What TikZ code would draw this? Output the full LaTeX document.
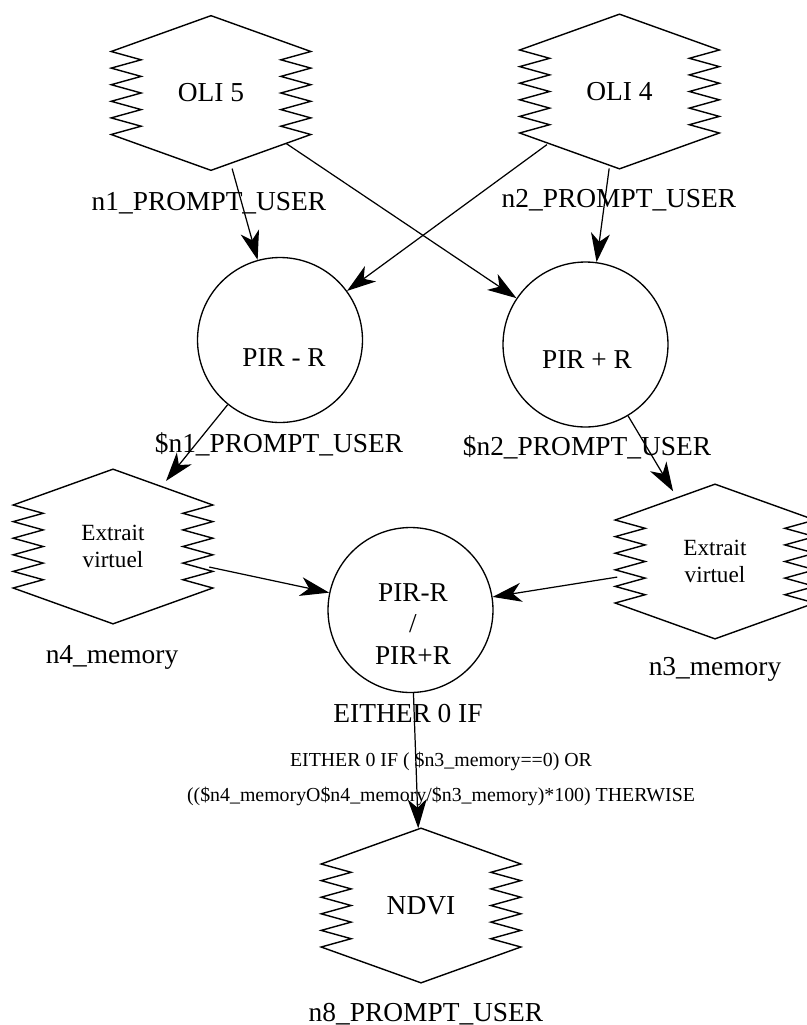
\documentclass[tikz,border=0pt]{standalone}
\usepackage{fontspec}
\setmainfont{Liberation Serif}
\usetikzlibrary{arrows.meta,shapes.geometric,calc}
\tikzset{
  dfd hex/.style={ellipse, minimum width=3.98cm, minimum height=3.08cm, inner sep=0pt, align=center, font=\fontsize{15.6}{18}\selectfont},
  dfd small hex/.style={dfd hex, font=\fontsize{13.2}{15.5}\selectfont},
  dfd op/.style={circle, draw, line width=0.75pt, minimum size=3.3cm, inner sep=0pt},
  dfd op text/.style={font=\fontsize{15.5}{17.9}\selectfont, align=center, inner sep=0pt},
  dfd outline/.style={line width=0.8pt, line join=miter},
  dfd tag/.style={font=\fontsize{15.6}{18}\selectfont, anchor=base, inner sep=0pt},
  dfd cond/.style={font=\fontsize{11.3}{19.8}\selectfont, align=center, inner sep=0pt},
  dfd flow/.style={draw, line width=0.7pt, -{Stealth[length=0.58cm, width=0.38cm, inset=0.17cm]}},
}

\begin{document}
\begin{tikzpicture}[x=0.02cm, y=-0.02cm]
  \useasboundingbox (0,0) rectangle (806,1025);

  % input bands
  \node[dfd hex] (oli5) at (211,93) {OLI 5};
  \node[dfd hex] (oli4) at (619.5,91.5) {OLI 4};
  \node[dfd tag] (n1) at (209,210) {n1\_PROMPT\_USER};
  \node[dfd tag] (n2) at (619,207) {n2\_PROMPT\_USER};

  % difference and sum
  \node[dfd op, label={[dfd op text, xshift=0.08cm, yshift=-0.35cm]center:{PIR - R}}] (pirm) at (280,340) {};
  \node[dfd op, label={[dfd op text, xshift=0.03cm, yshift=-0.3cm]center:{PIR + R}}] (pirp) at (585.5,344.5) {};
  \node[dfd tag] (sn1) at (279,452) {\$n1\_PROMPT\_USER};
  \node[dfd tag] (sn2) at (587,455) {\$n2\_PROMPT\_USER};

  % memories
  \node[dfd small hex] (ext4) at (113,546.5) {Extrait\\virtuel};
  \node[dfd small hex] (ext3) at (715,561.5) {Extrait\\virtuel};
  \node[dfd tag] (n4) at (112,663) {n4\_memory};
  \node[dfd tag] (n3) at (715,675) {n3\_memory};

  % ratio
  \node[dfd op, label={[dfd op text, xshift=0.05cm, yshift=-0.28cm]center:{PIR-R\\/\\PIR+R}}] (ratio) at (410.5,610) {};
  \node[dfd tag] (either) at (408,722) {EITHER 0 IF};
  \node[dfd cond] (cond) at (441,779) {EITHER 0 IF ( \$n3\_memory==0) OR\\((\$n4\_memoryO\$n4\_memory/\$n3\_memory)*100) THERWISE};

  % output
  \node[dfd hex] (ndvi) at (421,905.5) {NDVI};
  \node[dfd tag] (n8) at (426,1021) {n8\_PROMPT\_USER};

  % hexagon outlines with zigzag sides
  \foreach \n in {oli5,oli4,ext4,ext3,ndvi}
    \draw[dfd outline] (\n.north) -- ($(\n.west)+(0,-41.5)$)
      \foreach \k in {1,...,5} {-- ++(30,8.3) -- ++(-30,8.3)}
      -- (\n.south) -- ($(\n.east)+(0,41.5)$)
      \foreach \k in {1,...,5} {-- ++(-30,-8.3) -- ++(30,-8.3)}
      -- cycle;

  % flows
  \draw[dfd flow] (oli5) -- (pirm);
  \draw[dfd flow] (oli5) -- (pirp);
  \draw[dfd flow] (oli4) -- (pirm);
  \draw[dfd flow] (oli4) -- (pirp);
  \draw[dfd flow] (pirm) -- (ext4);
  \draw[dfd flow] (pirp) -- (ext3);
  \draw[dfd flow] (ext4) -- (ratio);
  \draw[dfd flow] (ext3) -- (ratio);
  \draw[dfd flow] (ratio) -- (ndvi);
\end{tikzpicture}
\end{document}
